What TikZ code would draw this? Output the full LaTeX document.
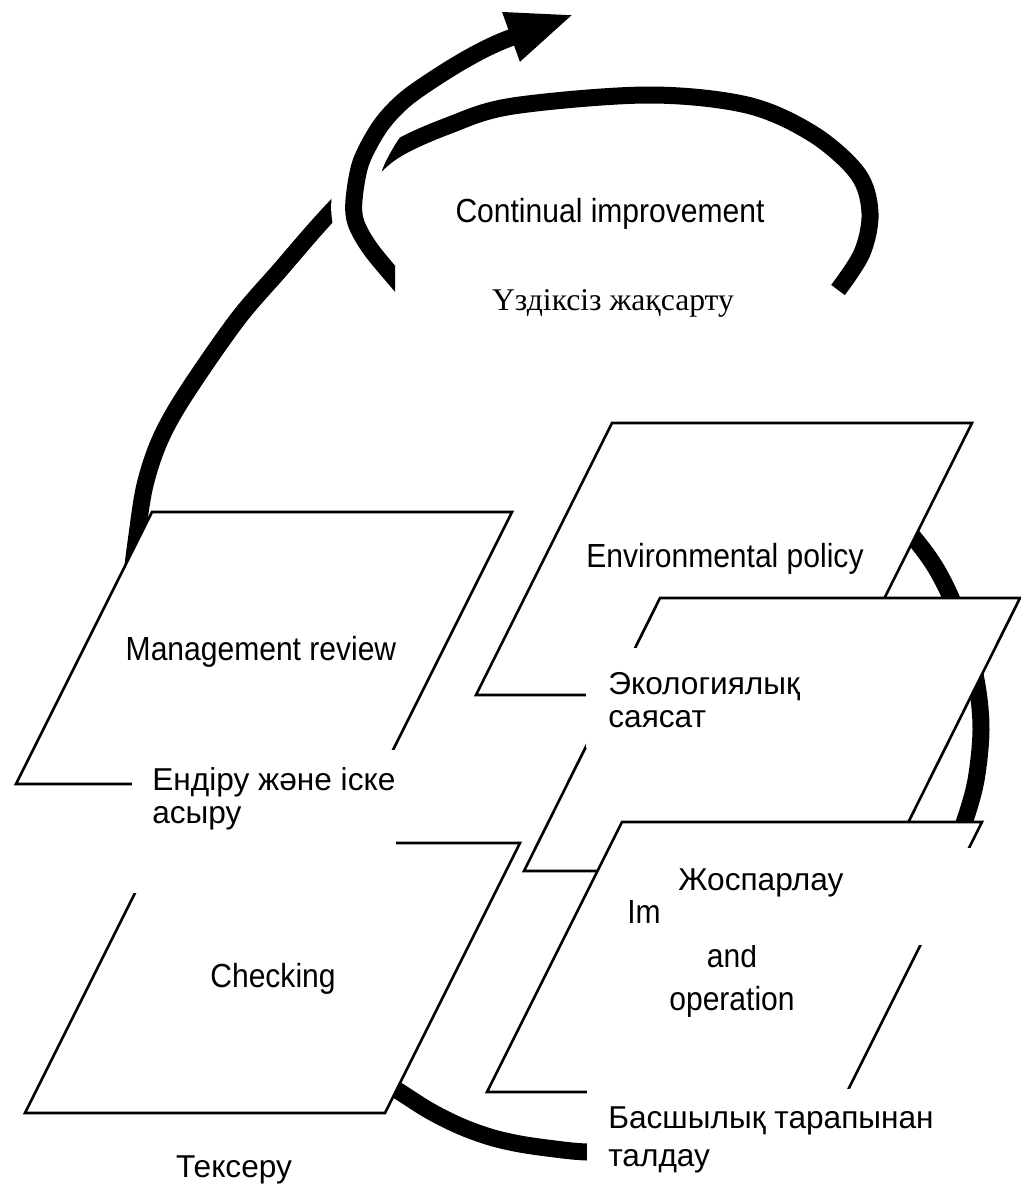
\documentclass[tikz,border=0pt]{standalone}
\usepackage{fontspec}
\setmainfont{Liberation Sans}
\newfontfamily\serifkz{Liberation Serif}
\newfontfamily\narrow[FakeStretch=0.9]{Liberation Sans}
\usetikzlibrary{arrows.meta}

\begin{document}
\begin{tikzpicture}[x=0.02cm, y=-0.02cm,
    panel/.style={draw, fill=white, line width=1.5pt},
    band/.style={line width=0.34cm},
    halo/.style={white, line width=0.9cm},
    cover/.style={fill=white},
    eng/.style={font=\narrow\fontsize{19}{22}\selectfont, inner sep=0pt},
    kaz/.style={font=\fontsize{18}{19}\selectfont, align=left, inner sep=0pt}]
    \useasboundingbox (0,0) rectangle (1021,1184);

    % Cycle band (behind the panels)
    \draw[band] plot[smooth, tension=0.55] coordinates {(850,485) (880,505) (905,528) (922,548) (937,570) (952,600) (966,640) (977,685) (981,730) (976,780) (965,820) (950,858) (925,905) (890,975) (850,1045) (790,1105) (720,1140) (650,1153) (587,1152) (555,1149) (520,1144) (490,1137) (460,1126) (430,1111) (400,1092) (350,1060) (290,1010) (225,940) (180,870) (152,800) (135,720) (128,640) (131,585) (137,535) (145,485) (160,440) (185,395) (237,320) (280,270) (318,226) (350,192) (392,152) (450,125) (513,106) (647,95) (747,105) (813,134) (858,174) (870,213) (862,253) (838,290)};

    % Front loop with arrow
    \begin{scope}
        \clip (0,0) -- (1021,0) -- (1021,255) -- (395,255) -- (395,330) -- (0,330) -- cycle;
        \draw[halo] plot[smooth] coordinates {(410,296) (372,251) (356,223) (354,200) (361,162) (381,125) (408,97) (456,65)};
        \draw[band, -{Triangle[length=1.36cm, width=0.94cm]}] plot[smooth] coordinates {(410,296) (372,251) (356,223) (354,200) (361,162) (381,125) (408,97) (456,65) (500,42) (575,14)};
    \end{scope}

    % Panels (same size, slanted)
    \draw[panel] (612,423) -- ++(360,0) -- ++(-136,272) -- ++(-360,0) -- cycle;
    \draw[panel] (660,598) -- ++(360,0) -- ++(-136,273) -- ++(-360,0) -- cycle;
    \draw[panel] (622,822) -- ++(360,0) -- ++(-135,270) -- ++(-360,0) -- cycle;
    \draw[panel] (152,512) -- ++(360,0) -- ++(-136,272) -- ++(-360,0) -- cycle;
    \draw[panel] (160,843) -- ++(360,0) -- ++(-135,270) -- ++(-360,0) -- cycle;

    % Panel labels
    \node[eng, anchor=base] (policy) at (725,567) {Environmental policy};
    \node[eng, anchor=base] (review) at (261,660) {Management review};
    \node[eng, anchor=base] (checking) at (273,987) {Checking};
    \node[eng, anchor=base west] (implA) at (627,923) {Im};
    \node[eng, anchor=base] (implB) at (732,967) {and};
    \node[eng, anchor=base] (implC) at (732,1010) {operation};

    % White text boxes
    \fill[cover] (132,750) rectangle (396,893);
    \fill[cover] (586,648) rectangle (820,748);
    \fill[cover] (660,848) rectangle (1000,945);
    \fill[cover] (587,1089) rectangle (960,1184);
    \node[kaz, anchor=north west] (doing) at (152,767) {Ендіру және іске\\асыру};
    \node[kaz, anchor=north west] (policykz) at (608,672) {Экологиялық\\саясат};
    \node[kaz, anchor=base west] (planning) at (678,890) {Жоспарлау};
    \node[kaz, anchor=north west, font=\fontsize{18}{22}\selectfont] (reviewkz) at (608,1106) {Басшылық тарапынан\\талдау};
    \node[kaz, anchor=base] (checkkz) at (234,1177) {Тексеру};

    % Top labels
    \node[eng, anchor=base] (improve) at (610,222) {Continual improvement};
    \node[font=\serifkz\fontsize{18}{20}\selectfont, inner sep=0pt, anchor=base] (improvekz) at (613,310) {Үздіксіз жақсарту};
\end{tikzpicture}
\end{document}
